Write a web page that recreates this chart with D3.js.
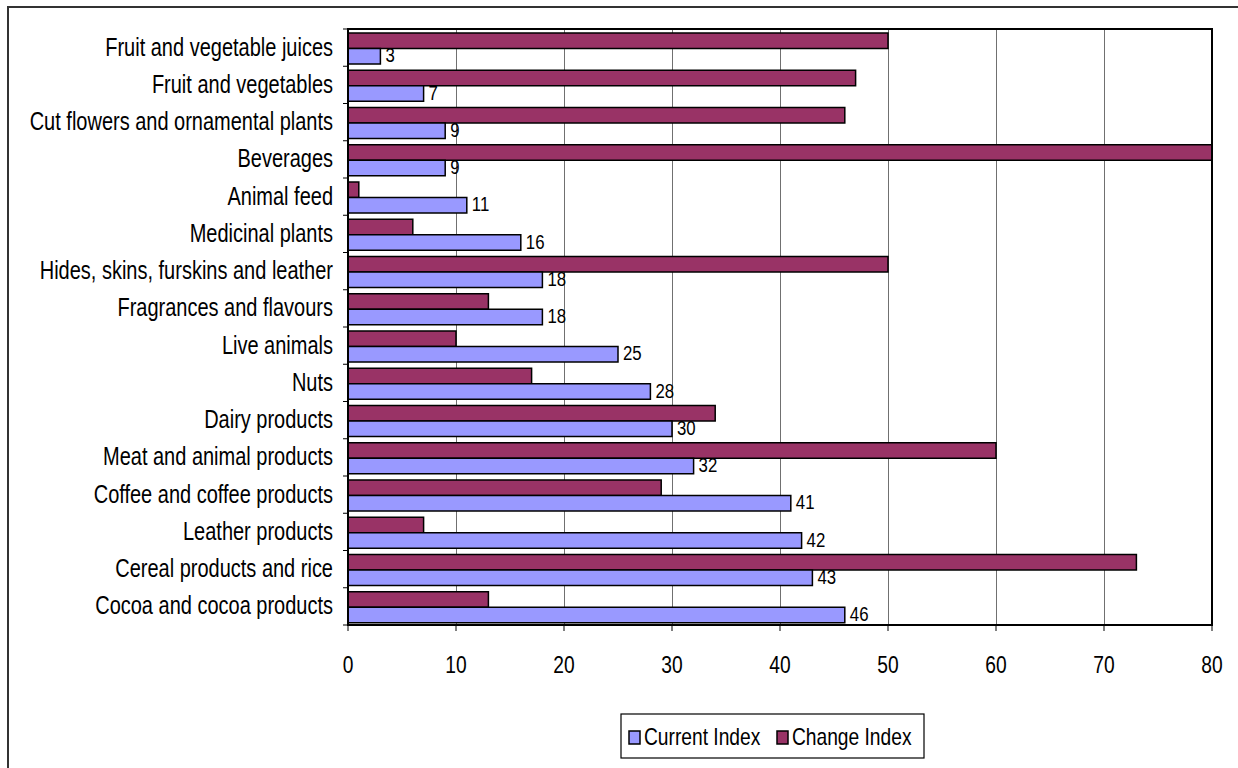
<!DOCTYPE html>
<html>
<head>
<meta charset="utf-8">
<script src="https://cdn.jsdelivr.net/npm/d3@7"></script>
<style>
  html, body { margin: 0; padding: 0; background: #fff; }
  svg { display: block; }
  text { font-family: "Liberation Sans", Arial, sans-serif; fill: #000; }
</style>
</head>
<body>
<svg id="chart" width="1238" height="768"></svg>
<script>
// Product groups, listed top to bottom
const categories = [
  "Fruit and vegetable juices",
  "Fruit and vegetables",
  "Cut flowers and ornamental plants",
  "Beverages",
  "Animal feed",
  "Medicinal plants",
  "Hides, skins, furskins and leather",
  "Fragrances and flavours",
  "Live animals",
  "Nuts",
  "Dairy products",
  "Meat and animal products",
  "Coffee and coffee products",
  "Leather products",
  "Cereal products and rice",
  "Cocoa and cocoa products"
];
const currentIndex = [3, 7, 9, 9, 11, 16, 18, 18, 25, 28, 30, 32, 41, 42, 43, 46];
const changeIndex  = [50, 47, 46, 80, 1, 6, 50, 13, 10, 17, 34, 60, 29, 7, 73, 13];
const xTicks = [0, 10, 20, 30, 40, 50, 60, 70, 80];
const seriesNames = ["Change Index", "Current Index"];
const legendNames = ["Current Index", "Change Index"];
const colors = { "Current Index": "#9999FF", "Change Index": "#993366" };

const svg = d3.select("#chart");
const SX = 0.8; // horizontal squeeze of the lettering

// outer frame of the chart area
svg.append("path")
  .attr("d", "M8,775 L8,7 L1245,7")
  .attr("fill", "none").attr("stroke", "#333").attr("stroke-width", 2);

const plot = { left: 348, right: 1212, top: 29, bottom: 625 };

const x = d3.scaleLinear().domain([0, 80]).range([plot.left, plot.right]);
const y = d3.scaleBand().domain(categories).range([plot.top, plot.bottom]).padding(0);
const ySub = d3.scaleBand().domain(seriesNames).range([4, 35]).padding(0);

// vertical gridlines
svg.append("g").selectAll("line").data(xTicks.slice(1, -1)).join("line")
  .attr("x1", d => Math.round(x(d)) + 0.5).attr("x2", d => Math.round(x(d)) + 0.5)
  .attr("y1", plot.top).attr("y2", plot.bottom)
  .attr("stroke", "#707070").attr("stroke-width", 1);

// bars
const rows = categories.map((c, i) => ({
  cat: c,
  "Current Index": currentIndex[i],
  "Change Index": changeIndex[i]
}));

svg.append("clipPath").attr("id", "plotclip")
  .append("rect").attr("x", plot.left - 2).attr("y", plot.top)
  .attr("width", plot.right - plot.left + 2).attr("height", plot.bottom - plot.top);

const barG = svg.append("g").attr("clip-path", "url(#plotclip)");
rows.forEach(r => {
  seriesNames.forEach(s => {
    barG.append("rect")
      .attr("x", x(0))
      .attr("y", y(r.cat) + ySub(s))
      .attr("width", x(r[s]) - x(0))
      .attr("height", ySub.bandwidth())
      .attr("fill", colors[s])
      .attr("stroke", "#000").attr("stroke-width", 1.5);
  });
});

// plot frame
svg.append("rect")
  .attr("x", plot.left).attr("y", plot.top)
  .attr("width", plot.right - plot.left).attr("height", plot.bottom - plot.top)
  .attr("fill", "none").attr("stroke", "#000").attr("stroke-width", 2);

// value labels on the current index bars
rows.forEach(r => {
  const cx = x(r["Current Index"]) + 5;
  const cy = y(r.cat) + ySub("Current Index") + ySub.bandwidth() / 2 + 6;
  svg.append("text")
    .attr("transform", `translate(${cx},${cy}) scale(${SX},1)`)
    .attr("font-size", 21)
    .text(r["Current Index"]);
});

// y axis: ticks at band boundaries and category names
const yBounds = categories.map(c => y(c)).concat([plot.bottom]);
svg.append("g").selectAll("line").data(yBounds).join("line")
  .attr("x1", plot.left - 5).attr("x2", plot.left)
  .attr("y1", d => d).attr("y2", d => d)
  .attr("stroke", "#000").attr("stroke-width", 1);

categories.forEach(c => {
  const ty = y(c) + y.bandwidth() / 2 + 8;
  svg.append("text")
    .attr("transform", `translate(333,${ty}) scale(${SX},1)`)
    .attr("text-anchor", "end")
    .attr("font-size", 25)
    .text(c);
});

// x axis ticks and labels
svg.append("g").selectAll("line").data(xTicks).join("line")
  .attr("x1", d => x(d)).attr("x2", d => x(d))
  .attr("y1", plot.bottom).attr("y2", plot.bottom + 6)
  .attr("stroke", "#000").attr("stroke-width", 1);

xTicks.forEach(t => {
  svg.append("text")
    .attr("transform", `translate(${x(t)},673) scale(${SX},1)`)
    .attr("text-anchor", "middle")
    .attr("font-size", 24)
    .text(t);
});

// legend
const lg = svg.append("g");
lg.append("rect")
  .attr("x", 621).attr("y", 714).attr("width", 303).attr("height", 44)
  .attr("fill", "#fff").attr("stroke", "#000").attr("stroke-width", 1.2);

const legendX = [629, 777];
legendNames.forEach((n, i) => {
  lg.append("rect")
    .attr("x", legendX[i]).attr("y", 731).attr("width", 11).attr("height", 13)
    .attr("fill", colors[n]).attr("stroke", "#000").attr("stroke-width", 1.5);
  lg.append("text")
    .attr("transform", `translate(${legendX[i] + 15},745) scale(${SX},1)`)
    .attr("font-size", 24)
    .text(n);
});
</script>
</body>
</html>
